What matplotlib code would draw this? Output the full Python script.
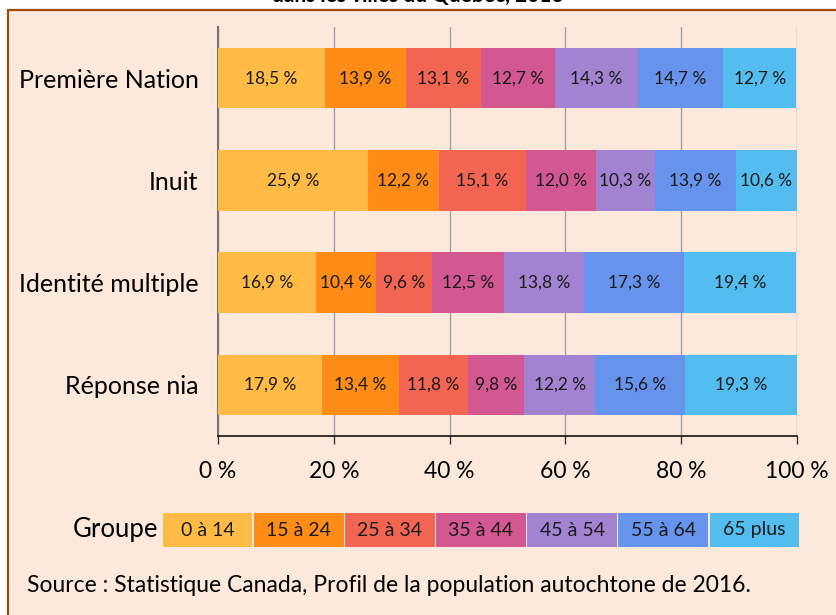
import matplotlib.pyplot as plt
import matplotlib.patches as mpatches
import numpy as np

categories = ['Première Nation', 'Inuit', 'Identité multiple', 'Réponse nia']
groups = ['0 à 14', '15 à 24', '25 à 34', '35 à 44', '45 à 54', '55 à 64', '65 plus']
shares = [
    [18.5, 13.9, 13.1, 12.7, 14.3, 14.7, 12.7],
    [25.9, 12.2, 15.1, 12.0, 10.3, 13.9, 10.6],
    [16.9, 10.4, 9.6, 12.5, 13.8, 17.3, 19.4],
    [17.9, 13.4, 11.8, 9.8, 12.2, 15.6, 19.3],
]
colors = ['#FFBB45', '#FF8C17', '#F26553', '#D35892', '#A183D1', '#6694EC', '#53BDF0']
xticks = [0, 20, 40, 60, 80, 100]

plt.rcParams['font.family'] = ['Lato', 'DejaVu Sans']
bg = '#FDE9DB'

fig = plt.figure(figsize=(8.36, 6.15), dpi=100, facecolor='white')

# cadre beige avec bordure
frame = mpatches.Rectangle((8 / 836, -0.1), 1.2, 1.1 - 10 / 615,
                           transform=fig.transFigure, facecolor=bg,
                           edgecolor='#9C4A0E', linewidth=1.6, zorder=-5)
fig.patches.append(frame)
fig.text(0.5, 1 - 2 / 615, 'dans les villes du Québec, 2016', ha='center',
         va='baseline', fontsize=15, fontweight='bold', zorder=-6)

ax = fig.add_axes([218 / 836, 1 - 436 / 615, 579 / 836, 409 / 615])
ax.set_facecolor('none')

data = np.array(shares)
y = np.arange(len(categories))
left = np.zeros(len(categories))
for j, g in enumerate(groups):
    vals = data[:, j]
    bars = ax.barh(y, vals, left=left, height=0.59, color=colors[j], zorder=3)
    for rect, v in zip(bars, vals):
        ax.text(rect.get_x() + rect.get_width() / 2, rect.get_y() + rect.get_height() / 2,
                f'{v:.1f}'.replace('.', ',') + '\u202f%', ha='center', va='center',
                fontsize=12.5, color='#1a1a1a', zorder=4)
    left += vals

ax.set_xlim(0, 100)
ax.set_ylim(3.5, -0.5)
ax.set_yticks(y)
ax.set_yticklabels(categories, fontsize=18)
ax.tick_params(axis='y', length=0, pad=14)
ax.set_xticks(xticks)
ax.set_xticklabels([f'{t}\u202f%' for t in xticks], fontsize=16.5)
ax.tick_params(axis='x', length=6, width=1, pad=12, color='#333333')
ax.grid(axis='x', color='#A0A0A0', linewidth=1, zorder=1)
for s in ['top', 'right']:
    ax.spines[s].set_visible(False)
ax.spines['left'].set_color('#777777')
ax.spines['left'].set_linewidth(1.5)
ax.spines['bottom'].set_color('#111111')
ax.spines['bottom'].set_linewidth(1.2)

# légende
lax = fig.add_axes([162 / 836, 1 - 547 / 615, 638 / 836, 34 / 615])
lax.bar(np.arange(len(groups)), 1, width=0.985, color=colors)
for i, g in enumerate(groups):
    lax.text(i, 0.5, g, ha='center', va='center', fontsize=14, color='#1a1a1a')
lax.set_xlim(-0.5, len(groups) - 0.5)
lax.set_ylim(0, 1)
lax.axis('off')
fig.text(158 / 836, 1 - 530 / 615, 'Groupe', ha='right', va='center', fontsize=18.5)

fig.text(27 / 836, 1 - 585 / 615,
         'Source : Statistique Canada, Profil de la population autochtone de 2016.',
         ha='left', va='center', fontsize=16.5)

fig.savefig('out.png', dpi=100, facecolor='white')
